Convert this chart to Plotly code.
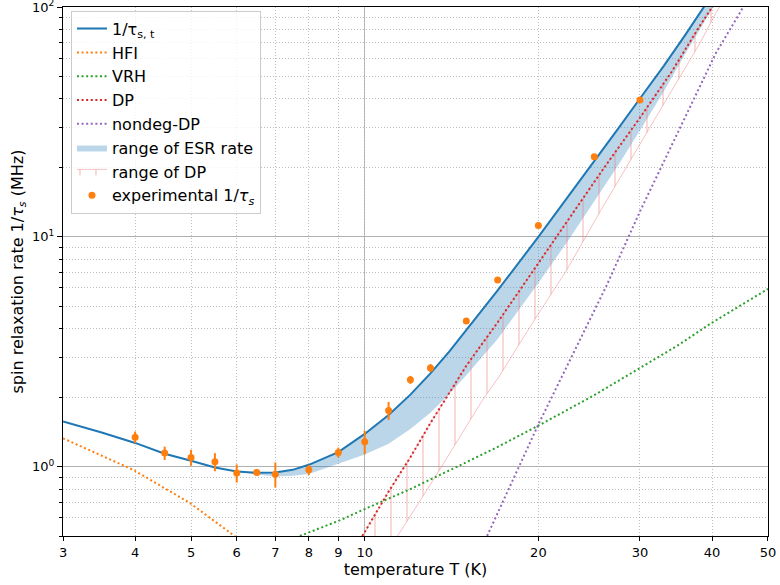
import plotly.graph_objects as go

# ---------------- data ----------------
# total spin relaxation rate 1/tau_s,t
T_tot = [3, 3.5, 4, 4.5, 5, 5.5, 6, 6.5, 7, 7.5, 8, 9, 10, 11, 12, 13, 14, 15, 17, 20,
         22.5, 25, 27.5, 30, 33, 36, 39, 42]
rate_tot = [1.575, 1.41, 1.27, 1.14, 1.062, 0.993, 0.954, 0.942, 0.945, 0.97, 1.02, 1.158,
            1.39, 1.68, 2.06, 2.55, 3.16, 3.92, 5.85, 10.0, 14.9, 21.4, 29.6, 40.0, 55.5,
            76.0, 103.0, 136.0]

# range of ESR rate (upper = total curve from T=6 on)
T_esr = T_tot[6:]
esr_upper = rate_tot[6:]
esr_lower = [0.954, 0.925, 0.907, 0.915, 0.93, 1.03, 1.13, 1.26, 1.46, 1.72, 2.07, 2.5,
             3.6, 6.3, 9.6, 14.3, 20.5, 29.0, 43.0, 63.0, 88.0, 120.0]

# hyperfine interaction
T_hfi = [3, 3.97, 4.98, 5.91, 6.1]
rate_hfi = [1.33, 0.97, 0.695, 0.506, 0.47]

# variable range hopping
T_vrh = [7.72, 9.1, 10, 12, 14.6, 17, 20.1, 25, 30, 35, 39.6, 45, 50]
rate_vrh = [0.5, 0.588, 0.655, 0.80, 1.013, 1.22, 1.52, 2.05, 2.69, 3.39, 4.17, 5.08, 5.94]

# D'yakonov-Perel
T_dp = [9.9, 10, 11, 12, 13, 14, 15, 17, 20, 23, 26, 30, 34, 38, 40, 42]
rate_dp = [0.5, 0.52, 0.78, 1.1, 1.55, 2.1, 2.75, 4.25, 7.7, 12.8, 20.0, 33.0, 52.0, 82.0,
           100.0, 120.0]

# lower edge of the DP range
T_dp_low = [11.4, 13.2, 16, 17.1, 19.6, 22.4, 25.5, 29.2, 33.3, 38.1, 40.6, 42]
rate_dp_low = [0.5, 0.89, 1.95, 2.47, 4.28, 7.18, 12.7, 22.4, 39.4, 69.5, 94.0, 108.0]

# non-degenerate DP
T_ndp = [16.3, 20.1, 23, 26.2, 30, 35, 40.6, 45, 45.4]
rate_ndp = [0.5, 1.57, 3.12, 6.07, 12.9, 28.9, 62.9, 97.0, 102.0]

# experimental 1/tau_s
T_exp = [4, 4.5, 5, 5.5, 6, 6.5, 7, 8, 9, 10, 11, 12, 13, 15, 17, 20, 25, 30]
rate_exp = [1.346, 1.147, 1.098, 1.051, 0.939, 0.945, 0.929, 0.97, 1.154, 1.284, 1.757,
            2.39, 2.69, 4.31, 6.49, 11.2, 22.3, 39.4]
err_exp = [0.078, 0.077, 0.088, 0.095, 0.085, 0.031, 0.116, 0.049, 0.058, 0.15, 0.158,
           0.096, 0.108, 0.08, 0.12, 0.2, 0.4, 0.6]

x_ticks = [3, 4, 5, 6, 7, 8, 9, 10, 20, 30, 40, 50]
x_solid_grid = [10]
y_major = [1, 10, 100]
y_major_text = ['10<sup>0</sup>', '10<sup>1</sup>', '10<sup>2</sup>']
y_minor = [0.5, 0.6, 0.7, 0.8, 0.9, 2, 3, 4, 5, 6, 7, 8, 9, 20, 30, 40, 50, 60, 70, 80, 90]

# ---------------- styles ----------------
C_BLUE = '#1f77b4'
C_ORANGE = '#ff7f0e'
C_GREEN = '#2ca02c'
C_RED = '#d62728'
C_PURPLE = '#9467bd'
PINK = 'rgba(236,120,120,0.45)'
DOT = '2px,2.6px'
GRIDDOT = '1px,2px'
FONT = 'DejaVu Sans'

fig = go.Figure()

# ESR range (fill)
fig.add_trace(go.Scatter(x=T_esr, y=esr_upper, mode='lines', line=dict(width=0, color=C_BLUE),
                         showlegend=False, hoverinfo='skip'))
fig.add_trace(go.Scatter(x=T_esr, y=esr_lower, mode='lines', line=dict(width=0, color=C_BLUE),
                         fill='tonexty', fillcolor='rgba(31,119,180,0.3)',
                         name='range of ESR rate', legendrank=6))

# DP range (hatched)
fig.add_trace(go.Scatter(x=T_dp, y=rate_dp, mode='lines', line=dict(width=1, color=PINK),
                         showlegend=False, hoverinfo='skip'))
fig.add_trace(go.Scatter(x=T_dp_low, y=rate_dp_low, mode='lines', line=dict(width=1, color=PINK),
                         fill='tonexty', fillcolor='rgba(0,0,0,0)',
                         fillpattern=dict(shape='|', size=16, solidity=0.08, fgcolor=PINK,
                                          bgcolor='rgba(0,0,0,0)'),
                         name='range of DP', legendrank=7))

# model curves
fig.add_trace(go.Scatter(x=T_hfi, y=rate_hfi, mode='lines', name='HFI',
                         line=dict(color=C_ORANGE, width=2, dash=DOT), legendrank=2))
fig.add_trace(go.Scatter(x=T_vrh, y=rate_vrh, mode='lines', name='VRH',
                         line=dict(color=C_GREEN, width=2, dash=DOT), legendrank=3))
fig.add_trace(go.Scatter(x=T_ndp, y=rate_ndp, mode='lines', name='nondeg-DP',
                         line=dict(color=C_PURPLE, width=2, dash=DOT), legendrank=5))
fig.add_trace(go.Scatter(x=T_dp, y=rate_dp, mode='lines', name='DP',
                         line=dict(color=C_RED, width=2, dash=DOT), legendrank=4))
fig.add_trace(go.Scatter(x=T_tot, y=rate_tot, mode='lines', name='1/τ<sub>s, t</sub>',
                         line=dict(color=C_BLUE, width=2), legendrank=1))

# experiment
fig.add_trace(go.Scatter(x=T_exp, y=rate_exp, mode='markers',
                         name='experimental 1/<i>τ</i><sub><i>s</i></sub>',
                         marker=dict(color=C_ORANGE, size=7),
                         error_y=dict(type='data', array=err_exp, color=C_ORANGE,
                                      thickness=2, width=0),
                         legendrank=8))

axis_common = dict(showline=True, linecolor='black', linewidth=1, mirror=True,
                   zeroline=False, automargin=False, ticklabeloverflow='allow',
                   tickfont=dict(family=FONT, size=13, color='black'))

fig.update_layout(
    template='none',
    width=780, height=585,
    margin=dict(l=63, r=12, t=7, b=49, pad=0),
    paper_bgcolor='white', plot_bgcolor='white',
    font=dict(family=FONT, size=13, color='black'),
    showlegend=True,
    legend=dict(x=0.0113, y=0.993, xanchor='left', yanchor='top',
                bgcolor='rgba(255,255,255,0.8)', bordercolor='#cccccc', borderwidth=1,
                font=dict(family=FONT, size=16, color='black'), traceorder='normal',
                tracegroupgap=0),
    xaxis=dict(type='log', range=[0.47702, 1.69907], tickmode='array', tickvals=x_ticks,
               ticktext=[str(v) for v in x_ticks], ticks='outside', ticklen=4,
               tickcolor='black', showgrid=True, gridcolor='#c0c0c0', gridwidth=1,
               griddash=GRIDDOT,
               minor=dict(tickvals=x_solid_grid, ticks='', showgrid=True,
                          gridcolor='#b0b0b0', griddash='solid', gridwidth=1),
               title=dict(text='temperature T (K)', font=dict(family=FONT, size=16),
                          standoff=4),
               **axis_common),
    yaxis=dict(type='log', range=[-0.30103, 2.0001], tickmode='array', tickvals=y_major,
               ticktext=y_major_text, ticks='outside', ticklen=5, tickcolor='black',
               showgrid=True, gridcolor='#b0b0b0', gridwidth=1,
               minor=dict(tickvals=y_minor, ticks='outside', ticklen=3, tickcolor='black',
                          showgrid=True, gridcolor='#c0c0c0', griddash=GRIDDOT, gridwidth=1),
               title=dict(text='spin relaxation rate 1/<i>τ</i><sub><i>s</i></sub> (MHz)',
                          font=dict(family=FONT, size=16), standoff=4),
               **axis_common),
)

fig.write_html('out.html', config={'displayModeBar': False},
               post_script="document.body.style.margin='0';document.body.style.padding='0';")
